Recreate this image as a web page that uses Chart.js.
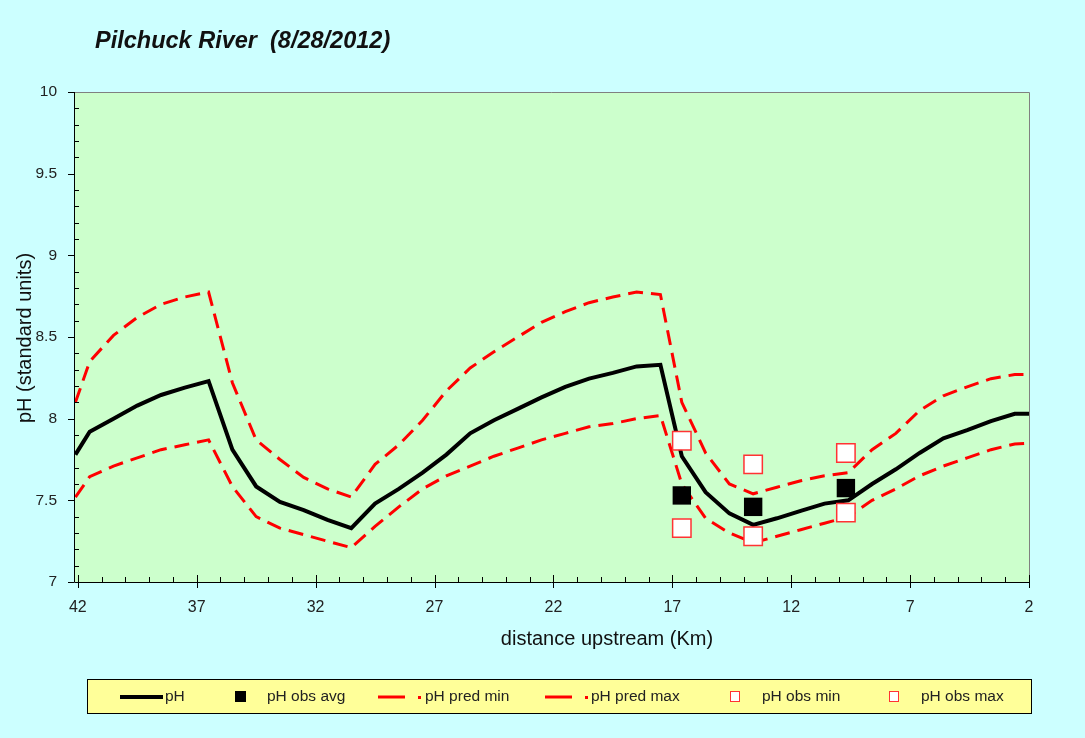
<!DOCTYPE html>
<html>
<head>
<meta charset="utf-8">
<script src="https://cdn.jsdelivr.net/npm/chart.js@4"></script>
<style>
  html, body { margin: 0; padding: 0; background: #ccffff; }
  #wrap { width: 1085px; height: 738px; }
</style>
</head>
<body>
<div id="wrap"><canvas id="myChart" width="1085" height="738"></canvas></div>
<script>
// model distances (km upstream)
const kmModel = [42.1, 41.5, 40.5, 39.5, 38.5, 37.5, 36.5, 35.5, 34.5, 33.5, 32.5, 31.5, 30.5, 29.5, 28.5, 27.5, 26.5, 25.5, 24.5, 23.5, 22.5, 21.5, 20.5, 19.5, 18.5, 17.5, 16.6, 15.6, 14.6, 13.6, 12.6, 11.6, 10.6, 9.6, 8.6, 7.6, 6.6, 5.6, 4.6, 3.6, 2.6, 2.0];
const phModel = [7.78, 7.92, 8.0, 8.08, 8.145, 8.19, 8.23, 7.81, 7.585, 7.49, 7.44, 7.38, 7.33, 7.48, 7.57, 7.67, 7.78, 7.91, 7.99, 8.06, 8.13, 8.195, 8.245, 8.28, 8.32, 8.33, 7.77, 7.55, 7.42, 7.35, 7.39, 7.435, 7.48, 7.50, 7.60, 7.69, 7.79, 7.88, 7.93, 7.985, 8.03, 8.03];
const phPredMin = [7.52, 7.645, 7.71, 7.76, 7.81, 7.84, 7.87, 7.585, 7.40, 7.33, 7.29, 7.25, 7.21, 7.34, 7.46, 7.57, 7.65, 7.71, 7.77, 7.82, 7.87, 7.91, 7.95, 7.97, 8.00, 8.02, 7.60, 7.39, 7.30, 7.24, 7.28, 7.32, 7.36, 7.40, 7.50, 7.57, 7.65, 7.71, 7.76, 7.81, 7.845, 7.85];
const phPredMax = [8.10, 8.35, 8.51, 8.62, 8.70, 8.745, 8.775, 8.22, 7.87, 7.75, 7.64, 7.57, 7.52, 7.72, 7.84, 7.99, 8.17, 8.31, 8.41, 8.50, 8.59, 8.655, 8.71, 8.745, 8.775, 8.76, 8.10, 7.79, 7.60, 7.54, 7.58, 7.62, 7.65, 7.67, 7.81, 7.91, 8.05, 8.14, 8.195, 8.245, 8.27, 8.27];

// observations
const kmObs = [16.6, 13.6, 9.7];
const phObsAvg = [7.53, 7.46, 7.575];
const phObsMin = [7.33, 7.28, 7.425];
const phObsMax = [7.865, 7.72, 7.79];

const xTicks = [42, 37, 32, 27, 22, 17, 12, 7, 2];
const yTicks = [7, 7.5, 8, 8.5, 9, 9.5, 10];

const pts = (xs, ys) => xs.map((x, i) => ({x: x, y: ys[i]}));

const FONT = '"Liberation Sans", Arial, sans-serif';

const decor = {
    id: 'decor',
    beforeDraw(chart) {
        const c = chart.ctx, a = chart.chartArea;
        c.save();
        c.fillStyle = '#ccffff';
        c.fillRect(0, 0, chart.width, chart.height);
        c.fillStyle = '#ccffcc';
        c.fillRect(a.left, a.top, a.right - a.left, a.bottom - a.top);
        c.strokeStyle = '#808080';
        c.lineWidth = 1;
        c.beginPath();
        c.moveTo(a.left, a.top + 0.5);
        c.lineTo(a.right + 0.5, a.top + 0.5);
        c.lineTo(a.right + 0.5, a.bottom);
        c.stroke();
        c.restore();
    },
    afterDatasetsDraw(chart) {
        const c = chart.ctx, a = chart.chartArea;
        const xs = chart.scales.x, ys = chart.scales.y;
        c.save();
        c.strokeStyle = '#000';
        c.lineWidth = 1;
        c.beginPath();
        // axes
        c.moveTo(a.left + 0.5, a.top);
        c.lineTo(a.left + 0.5, a.bottom + 0.5);
        c.lineTo(a.right, a.bottom + 0.5);
        // x ticks
        for (let k = 2; k <= 42; k++) {
            const px = Math.round(xs.getPixelForValue(k)) + 0.5;
            if ((k - 2) % 5 === 0) {
                c.moveTo(px, a.bottom - 7);
                c.lineTo(px, a.bottom + 6);
            } else {
                c.moveTo(px, a.bottom - 5);
                c.lineTo(px, a.bottom);
            }
        }
        // y ticks
        for (let i = 0; i <= 30; i++) {
            const v = 7 + i * 0.1;
            const py = Math.round(ys.getPixelForValue(v)) + 0.5;
            if (i % 5 === 0) {
                c.moveTo(a.left - 6, py);
                c.lineTo(a.left, py);
            } else {
                c.moveTo(a.left, py);
                c.lineTo(a.left + 5, py);
            }
        }
        c.stroke();

        // title + axis titles
        c.fillStyle = '#111';
        c.font = 'italic bold 23.5px ' + FONT;
        c.textBaseline = 'middle';
        c.textAlign = 'left';
        c.fillText('Pilchuck River  (8/28/2012)', 95, 42);
        c.font = '20px ' + FONT;
        c.textAlign = 'center';
        c.fillText('distance upstream (Km)', 607, 639);
        c.translate(25, 338);
        c.rotate(-Math.PI / 2);
        c.fillText('pH (standard units)', 0, 0);
        c.restore();

        // legend
        c.save();
        c.fillStyle = '#ffff99';
        c.fillRect(87, 679, 945, 35);
        c.strokeStyle = '#000';
        c.lineWidth = 1;
        c.strokeRect(87.5, 679.5, 944, 34);
        const ly = 697;
        const ds = chart.data.datasets;
        c.font = '15.5px ' + FONT;
        c.textBaseline = 'middle';
        c.textAlign = 'left';
        c.fillStyle = '#222';
        // pH
        c.strokeStyle = '#000';
        c.lineWidth = 4;
        c.beginPath(); c.moveTo(120, ly); c.lineTo(163, ly); c.stroke();
        c.fillText(ds[0].label, 165, ly);
        // obs avg
        c.fillStyle = '#000';
        c.fillRect(235, ly - 6, 11, 11);
        c.fillStyle = '#222';
        c.fillText(ds[3].label, 267, ly);
        // pred min / max
        [[378, 425, ds[1].label], [545, 591, ds[2].label]].forEach(([x0, tx, lab]) => {
            c.strokeStyle = '#ff0000';
            c.lineWidth = 3;
            c.beginPath(); c.moveTo(x0, ly); c.lineTo(x0 + 27, ly); c.stroke();
            c.fillStyle = '#ff0000';
            c.fillRect(x0 + 40, ly - 1, 3, 3);
            c.fillStyle = '#222';
            c.fillText(lab, tx, ly);
        });
        // obs min / max
        [[730, 762, ds[4].label], [889, 921, ds[5].label]].forEach(([x0, tx, lab]) => {
            c.fillStyle = '#fff';
            c.fillRect(x0, ly - 6, 10, 11);
            c.strokeStyle = '#ff3333';
            c.lineWidth = 1;
            c.strokeRect(x0 + 0.5, ly - 5.5, 9, 10);
            c.fillStyle = '#222';
            c.fillText(lab, tx, ly);
        });
        c.restore();
    }
};

const ctx = document.getElementById('myChart');

new Chart(ctx, {
    type: 'scatter',
    data: {
        datasets: [{
            label: 'pH',
            type: 'line',
            data: pts(kmModel, phModel),
            borderColor: '#000',
            borderWidth: 4,
            pointRadius: 0,
            tension: 0,
            order: 3
        }, {
            label: 'pH pred min',
            type: 'line',
            data: pts(kmModel, phPredMin),
            borderColor: '#ff0000',
            borderWidth: 3,
            borderDash: [15, 8],
            pointRadius: 0,
            tension: 0,
            order: 4
        }, {
            label: 'pH pred max',
            type: 'line',
            data: pts(kmModel, phPredMax),
            borderColor: '#ff0000',
            borderWidth: 3,
            borderDash: [15, 8],
            pointRadius: 0,
            tension: 0,
            order: 5
        }, {
            label: 'pH obs avg',
            data: pts(kmObs, phObsAvg),
            pointStyle: 'rect',
            pointRadius: 13,
            backgroundColor: '#000',
            borderColor: '#000',
            borderWidth: 0,
            order: 0
        }, {
            label: 'pH obs min',
            data: pts(kmObs, phObsMin),
            pointStyle: 'rect',
            pointRadius: 13,
            backgroundColor: '#fff',
            borderColor: '#ff3333',
            borderWidth: 1.5,
            order: 1
        }, {
            label: 'pH obs max',
            data: pts(kmObs, phObsMax),
            pointStyle: 'rect',
            pointRadius: 13,
            backgroundColor: '#fff',
            borderColor: '#ff3333',
            borderWidth: 1.5,
            order: 2
        }]
    },
    options: {
        responsive: false,
        animation: false,
        layout: { padding: { left: 0, right: 56, top: 92, bottom: 0 } },
        plugins: {
            legend: { display: false },
            tooltip: { enabled: false }
        },
        scales: {
            x: {
                type: 'linear',
                reverse: true,
                min: 2,
                max: 42.16,
                grid: { display: false, drawTicks: false },
                border: { display: false },
                afterBuildTicks: (s) => { s.ticks = xTicks.map(v => ({value: v})); },
                afterFit: (s) => { s.height = 156; },
                ticks: {
                    padding: 16,
                    color: '#222',
                    font: { family: FONT, size: 16 },
                    maxRotation: 0,
                    autoSkip: false,
                    callback: (v) => String(v)
                }
            },
            y: {
                min: 7,
                max: 10,
                grid: { display: false, drawTicks: false },
                border: { display: false },
                afterBuildTicks: (s) => { s.ticks = yTicks.map(v => ({value: v})); },
                afterFit: (s) => { s.width = 74; },
                ticks: {
                    padding: 17,
                    color: '#222',
                    font: { family: FONT, size: 15.5 },
                    callback: (v) => String(v)
                }
            }
        }
    },
    plugins: [decor]
});
</script>
</body>
</html>
